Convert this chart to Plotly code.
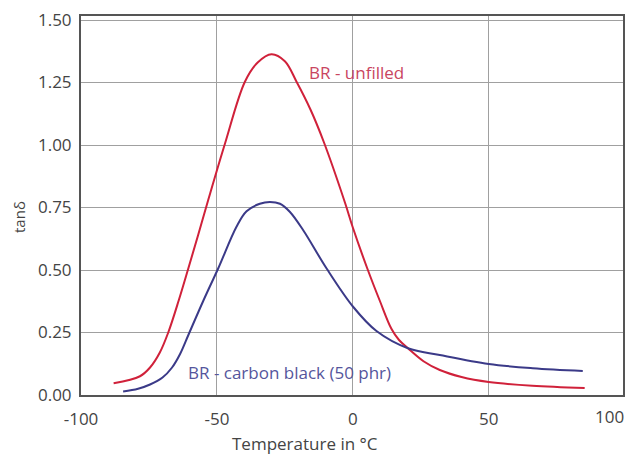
import plotly.graph_objects as go

# --- data ---
temp_unfilled = [-88, -78.3, -74.6, -71, -67.9, -64, -60.5, -56.9, -53.2, -47.1, -39.7, -35, -29.9,
                 -25, -20.7, -15.5, -10.6, -2.9, 0, 5.3, 10, 14.2, 17, 20.3, 26, 32, 40, 50, 66, 85.3]
tand_unfilled = [0.047, 0.075, 0.11, 0.17, 0.25, 0.38, 0.507, 0.64, 0.78, 1.003, 1.253, 1.33, 1.363,
                 1.335, 1.253, 1.14, 1.01, 0.77, 0.67, 0.507, 0.375, 0.265, 0.22, 0.187, 0.135, 0.10, 0.072,
                 0.052, 0.037, 0.028]

temp_cb = [-84.5, -79, -74.6, -70, -66.5, -63.5, -60.5, -55, -49.5, -42.8, -39.1, -34.2, -30.5, -26.8,
           -23.2, -18.3, -9.7, 0.1, 8.7, 20.3, 32, 50, 66.2, 84.6]
tand_cb = [0.014, 0.025, 0.042, 0.07, 0.11, 0.165, 0.24, 0.377, 0.507, 0.673, 0.735, 0.765, 0.772, 0.765,
           0.733, 0.66, 0.507, 0.353, 0.256, 0.187, 0.16, 0.124, 0.107, 0.096]

x_ticks = [-100, -50, 0, 50, 100]
x_ticktext = ["-100", "-50", "0", "50", ""]
y_ticks = [0, 0.25, 0.5, 0.75, 1.0, 1.25, 1.5]
y_ticktext = ["0.00", "0.25", "0.50", "0.75", "1.00", "1.25", "1.50"]

RED = "#d0213a"
BLUE = "#3b3a88"
FONT = "Open Sans"
FS = 17

W, H = 629, 455
L, R, T, B = 81, 6, 16, 60
pw, ph = W - L - R, H - T - B

fig = go.Figure()
fig.add_trace(go.Scatter(x=temp_unfilled, y=tand_unfilled, mode="lines",
                         line=dict(color=RED, width=2, shape="spline", smoothing=1.0),
                         name="BR - unfilled", showlegend=False))
fig.add_trace(go.Scatter(x=temp_cb, y=tand_cb, mode="lines",
                         line=dict(color=BLUE, width=2, shape="spline", smoothing=1.0),
                         name="BR - carbon black (50 phr)", showlegend=False))

fig.update_layout(
    width=W, height=H,
    margin=dict(l=L, r=R, t=T, b=B),
    paper_bgcolor="white", plot_bgcolor="white",
    font=dict(family=FONT, size=FS, color="#444"),
    xaxis=dict(range=[-100, 99.4], tickvals=x_ticks, ticktext=x_ticktext, automargin=False,
               showgrid=True, gridcolor="#a0a0a0", gridwidth=1.3,
               showline=True, mirror=True, linecolor="#555", linewidth=2,
               ticks="", zeroline=False, ticklabelstandoff=8),
    yaxis=dict(range=[0, 1.516], tickvals=y_ticks, ticktext=y_ticktext, automargin=False,
               showgrid=True, gridcolor="#a0a0a0", gridwidth=1.3,
               showline=True, mirror=True, linecolor="#555", linewidth=2,
               ticks="", zeroline=False, ticklabelstandoff=4),
    annotations=[
        dict(x=-17, y=1.29, xref="x", yref="y", text="BR - unfilled", showarrow=False,
             xanchor="left", yanchor="middle", font=dict(color="#c9455f", size=FS, family=FONT)),
        dict(x=-61.4, y=0.089, xref="x", yref="y", text="BR - carbon black (50 phr)", showarrow=False,
             xanchor="left", yanchor="middle", font=dict(color="#55559c", size=FS, family=FONT)),
        dict(x=1, y=0, xref="paper", yref="paper", xshift=3, yshift=-(416.7 - (H - B)),
             text="100", showarrow=False, xanchor="right", yanchor="middle",
             font=dict(color="#444", size=FS, family=FONT)),
        dict(x=(305 - L) / pw, y=-((443 - (H - B)) / ph), xref="paper", yref="paper",
             text="Temperature in °C", showarrow=False, xanchor="center", yanchor="middle",
             font=dict(color="#444", size=FS, family=FONT)),
        dict(x=-((L - 19) / pw), y=((H - B) - 217) / ph, xref="paper", yref="paper",
             text="tanδ", showarrow=False, textangle=-90, xanchor="center", yanchor="middle",
             font=dict(color="#444", size=15, family=FONT)),
    ],
)

fig.write_html("out.html", config={"displayModeBar": False},
               post_script="document.body.style.margin='0';document.body.style.overflow='hidden';")
